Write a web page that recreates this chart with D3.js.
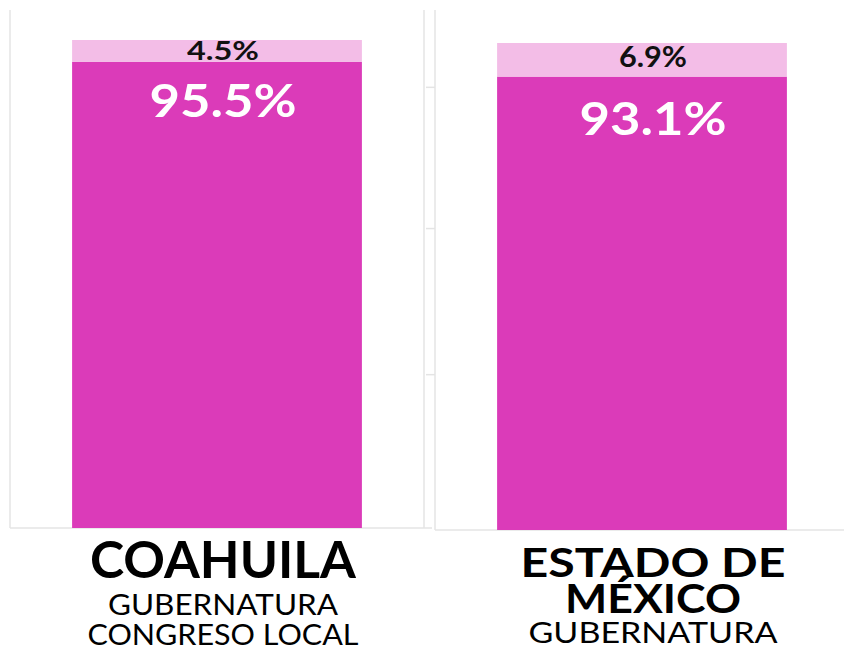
<!DOCTYPE html>
<html>
<head>
<meta charset="utf-8">
<script src="https://cdn.jsdelivr.net/npm/d3@7"></script>
<style>
  body { margin: 0; background: #fff; }
  text { font-family: "Lato", "Open Sans", sans-serif; }
</style>
</head>
<body>
<div id="chart"></div>
<script>
// data
const categories = ["COAHUILA", "ESTADO DE MÉXICO"];
const titleLines = [["COAHUILA"], ["ESTADO DE", "MÉXICO"]];
const subtitleLines = [["GUBERNATURA", "CONGRESO LOCAL"], ["GUBERNATURA"]];
const mainValues = [95.5, 93.1];
const restValues = [4.5, 6.9];
const tickValues = [32, 62, 91];

const width = 844, height = 656;
const darkColor = "#db3bb9", lightColor = "#f3bde7", gridColor = "#e4e4e4";

// panel layout
const panels = [
  { left: 10, right: 424, top: 10, bottom: 528, dx: 6 },
  { left: 435, right: 849, top: 10, bottom: 530, dx: 11 }
];

let svg = d3.select("#chart").append("svg")
  .attr("width", width)
  .attr("height", height);

categories.forEach((cat, i) => {
  let p = panels[i];
  let g = svg.append("g");

  let x = d3.scaleBand()
    .domain([cat])
    .range([p.left, p.right])
    .paddingInner(0.3)
    .paddingOuter(0.15);

  let y = d3.scaleLinear()
    .domain([0, 100])
    .range([p.bottom, i == 0 ? 40 : 43]);

  // panel frame
  g.append("line")
    .attr("x1", p.left).attr("x2", p.left)
    .attr("y1", p.top).attr("y2", p.bottom)
    .attr("stroke", gridColor).attr("stroke-width", 1.5);
  g.append("line")
    .attr("x1", p.left).attr("x2", p.right + (i == 0 ? 8 : 0))
    .attr("y1", p.bottom).attr("y2", p.bottom)
    .attr("stroke", gridColor).attr("stroke-width", 1.5);
  if (i == 0) {
    g.append("line")
      .attr("x1", p.right).attr("x2", p.right)
      .attr("y1", p.top).attr("y2", p.bottom)
      .attr("stroke", gridColor).attr("stroke-width", 1.5);
  } else {
    // faint left axis ticks
    let ax = g.append("g")
      .attr("transform", "translate(" + p.left + ",0)")
      .call(d3.axisLeft(y).tickValues(tickValues).tickSize(9).tickSizeOuter(0).tickFormat(""));
    ax.select(".domain").remove();
    ax.selectAll(".tick line").attr("stroke", gridColor).attr("stroke-width", 1.5);
  }

  // stacked bar
  g.append("rect")
    .attr("x", x(cat))
    .attr("width", x.bandwidth())
    .attr("y", y(mainValues[i]))
    .attr("height", y(0) - y(mainValues[i]))
    .attr("fill", darkColor);
  g.append("rect")
    .attr("x", x(cat))
    .attr("width", x.bandwidth())
    .attr("y", y(mainValues[i] + restValues[i]))
    .attr("height", y(mainValues[i]) - y(mainValues[i] + restValues[i]))
    .attr("fill", lightColor);

  let cx = x(cat) + x.bandwidth() / 2 + p.dx;

  // value labels
  g.append("text")
    .attr("x", cx)
    .attr("y", y(mainValues[i] + restValues[i] / 2) + (i == 0 ? 9 : 7))
    .attr("text-anchor", "middle")
    .attr("font-size", i == 0 ? 26 : 28)
    .attr("font-weight", 700)
    .attr("fill", "#111")
    .attr("textLength", i == 0 ? 72 : 68)
    .attr("lengthAdjust", "spacingAndGlyphs")
    .text(restValues[i] + "%");
  g.append("text")
    .attr("x", cx)
    .attr("y", y(mainValues[i]) + (i == 0 ? 55 : 58))
    .attr("text-anchor", "middle")
    .attr("font-size", 45)
    .attr("font-weight", 700)
    .attr("fill", "#fff")
    .attr("textLength", 147)
    .attr("lengthAdjust", "spacingAndGlyphs")
    .text(mainValues[i] + "%");
});

// category titles
let titleStyle = [
  { y: [578], size: 51, len: [266] },
  { y: [577, 613], size: 41, len: [265, 176] }
];
let subStyle = [
  { y: [615, 645], size: 28, len: [230, 271] },
  { y: [643], size: 29, len: [249] }
];

categories.forEach((cat, i) => {
  let p = panels[i];
  let cx = p.left + 62 + 145 + p.dx;
  titleLines[i].forEach((line, j) => {
    svg.append("text")
      .attr("x", cx)
      .attr("y", titleStyle[i].y[j])
      .attr("text-anchor", "middle")
      .attr("font-size", titleStyle[i].size)
      .attr("font-weight", 700)
      .attr("fill", "#000")
      .attr("textLength", titleStyle[i].len[j])
      .attr("lengthAdjust", "spacingAndGlyphs")
      .text(line);
  });
  subtitleLines[i].forEach((line, j) => {
    svg.append("text")
      .attr("x", cx)
      .attr("y", subStyle[i].y[j])
      .attr("text-anchor", "middle")
      .attr("font-size", subStyle[i].size)
      .attr("font-weight", 400)
      .attr("fill", "#000")
      .attr("textLength", subStyle[i].len[j])
      .attr("lengthAdjust", "spacingAndGlyphs")
      .text(line);
  });
});
</script>
</body>
</html>
